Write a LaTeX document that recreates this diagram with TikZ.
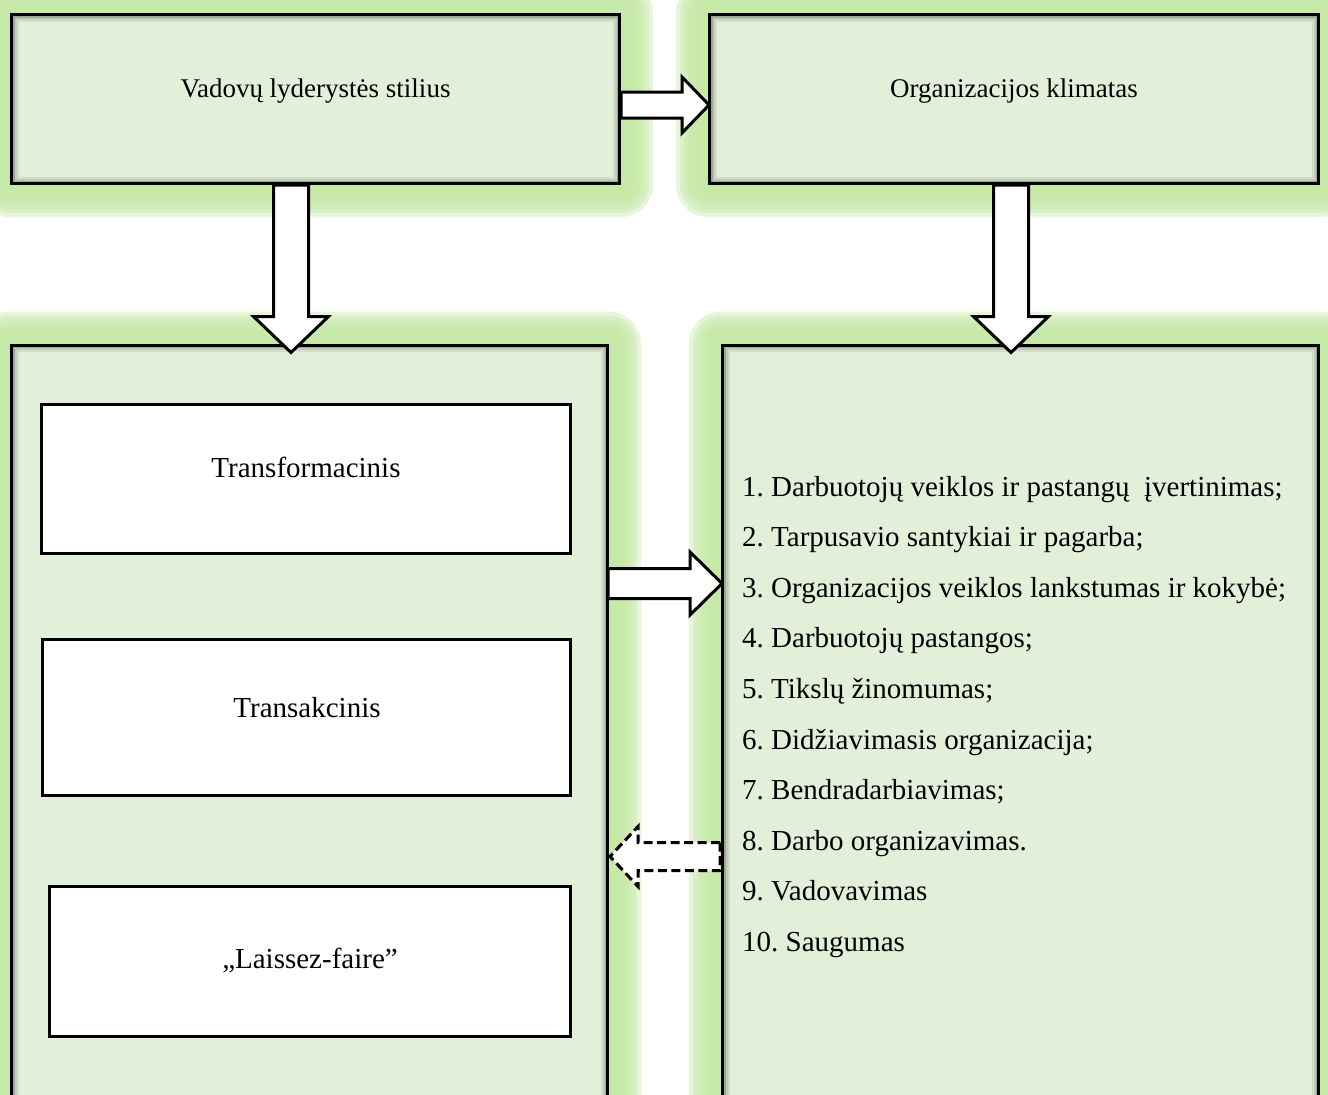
\documentclass[tikz,border=0pt]{standalone}
\usepackage{fontspec}
\setmainfont{Liberation Serif}
\usetikzlibrary{calc,backgrounds}
\frenchspacing

\definecolor{boxgreen}{RGB}{226,239,217}
\definecolor{glowgreen}{RGB}{197,233,167}

% soft green glow round an outer box
\newcommand{\glowbox}[1]{%
  \foreach \g in {32,28,24,20,16,12,8}
    \fill[glowgreen, opacity=0.4, rounded corners=\g pt] ($(#1.south west)+(-\g,\g)$) rectangle ($(#1.north east)+(\g,-\g)$);
}
% shade just inside the border
\newcommand{\innershade}[1]{%
  \foreach \s/\o in {3.5/0.3,5.5/0.15,7.5/0.07}
    \draw[black, opacity=\o, line width=2pt] ($(#1.south west)+(\s,-\s)$) rectangle ($(#1.north east)+(-\s,\s)$);
}
% block arrow: [style] {from} {to} {shaft half} {head half} {head length}
\newcommand{\blockarrow}[6][]{%
  \draw[blockarr, #1] let \p1=(#2), \p2=(#3), \n1={atan2(\y2-\y1,\x2-\x1)}, \n2={veclen(\x2-\x1,\y2-\y1)} in
    [shift={(\p1)}, rotate=\n1] (0,#4) -- ({\n2-#6},#4) -- ({\n2-#6},#5) -- (\n2,0) -- ({\n2-#6},-#5) -- ({\n2-#6},-#4) -- (0,-#4) -- cycle;
}

\tikzset{
  outerbox/.style={draw=black, line width=3pt, fill=boxgreen, inner sep=0pt},
  innerbox/.style={draw=black, line width=3pt, fill=white, inner sep=0pt},
  blockarr/.style={draw=black, fill=white, line width=3pt, line join=miter},
  dasharr/.style={dash pattern=on 9pt off 4.5pt},
  toptext/.style={font=\fontsize{27}{32}\selectfont, inner sep=0pt},
  styletext/.style={font=\fontsize{29}{34}\selectfont, inner sep=0pt},
  listtext/.style={font=\fontsize{29}{35}\selectfont, inner sep=0pt, anchor=base west}
}

\begin{document}
\begin{tikzpicture}[x=1pt, y=-1pt]
\clip (0,0) rectangle (1328,1095);

% Top row
\node[outerbox, minimum width=608pt, minimum height=169pt] (vls) at (315.5,99) {};
\node[outerbox, minimum width=609pt, minimum height=169pt] (ok) at (1014,99) {};
\node[toptext, anchor=base] (vlstext) at ($(vls.center)+(0,-2)$) {Vadovų lyderystės stilius};
\node[toptext, anchor=base] (oktext) at ($(ok.center)+(0,-2)$) {Organizacijos klimatas};

% Bottom row
\node[outerbox, minimum width=596pt, minimum height=769pt] (styles) at (309.5,729.5) {};
\node[outerbox, minimum width=596pt, minimum height=769pt] (clim) at (1020.5,729.5) {};

\begin{scope}[on background layer]
\fill[white] (0,0) rectangle (1328,1095);
\glowbox{vls}
\glowbox{ok}
\glowbox{styles}
\glowbox{clim}
\end{scope}
\innershade{vls}
\innershade{ok}
\innershade{styles}
\innershade{clim}

% Leadership styles
\node[innerbox, minimum width=529pt, minimum height=149pt] (tf) at (306,479) {};
\node[innerbox, minimum width=528pt, minimum height=156pt] (ta) at (306.5,717.5) {};
\node[innerbox, minimum width=521pt, minimum height=150pt] (lf) at (310,961.5) {};
\node[styletext, anchor=base] (tftext) at (306,477) {Transformacinis};
\node[styletext, anchor=base] (tatext) at (307,717) {Transakcinis};
\node[styletext, anchor=base] (lftext) at (310,968) {„Laissez-faire”};

% Climate dimensions
\foreach \txt [count=\i] in {1. Darbuotojų veiklos ir pastangų\ \ įvertinimas;,
    2. Tarpusavio santykiai ir pagarba;,
    3. Organizacijos veiklos lankstumas ir kokybė;,
    4. Darbuotojų pastangos;,
    5. Tikslų žinomumas;,
    6. Didžiavimasis organizacija;,
    7. Bendradarbiavimas;,
    8. Darbo organizavimas.,
    9. Vadovavimas,
    10. Saugumas}
  \node[listtext] (item\i) at (742,{496+(\i-1)*50.6}) {\txt};

% Arrows
\blockarrow{$(vls.east)+(0,6)$}{$(ok.west)+(1,6)$}{13}{28}{27}
\blockarrow{$(vls.south)+(-24.5,0)$}{$(styles.north)+(-18.5,9)$}{17.5}{37.5}{36}
\blockarrow{$(ok.south)+(-3,0)$}{$(clim.north)+(-9.5,9)$}{17.5}{37.5}{36}
\blockarrow{$(styles.east)+(-1,-146)$}{$(clim.west)+(1,-146)$}{15}{31.5}{32}
\blockarrow[dasharr]{$(clim.west)+(-1,127)$}{$(styles.east)+(1,127)$}{14}{30}{28}
\end{tikzpicture}
\end{document}
